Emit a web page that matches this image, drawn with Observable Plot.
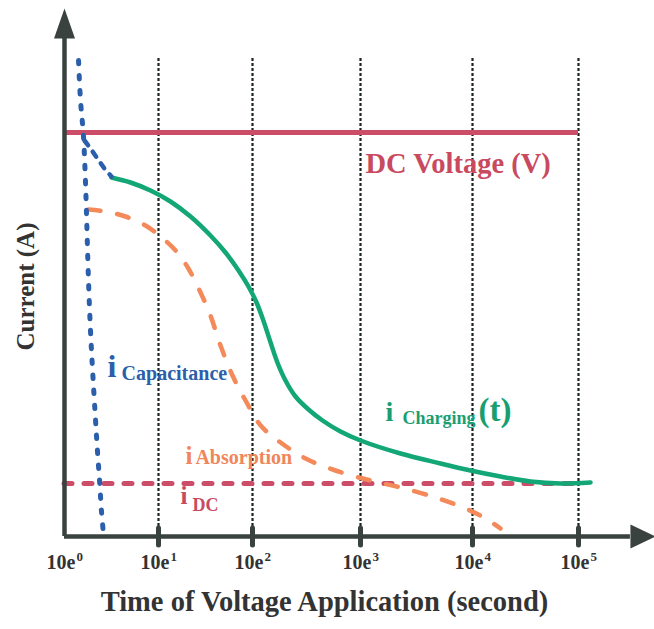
<!DOCTYPE html>
<html><head><meta charset="utf-8">
<script src="https://cdn.jsdelivr.net/npm/d3@7"></script>
<script src="https://cdn.jsdelivr.net/npm/@observablehq/plot@0.6"></script>
<style>body{margin:0;background:#fff}</style>
</head><body><div id="chart"></div>
<script>
// x: time of voltage application (s), log scale; y: current (arbitrary units)
const decades = [1, 10, 100, 1000, 10000, 100000];
const decadeExp = ["0", "1", "2", "3", "4", "5"];
const gridTimes = [10, 100, 1000, 10000, 100000];

const dcVoltage = 80.8;
const dcCurrent = 10.6;

const capT = [1.41, 1.48, 1.59, 1.67, 1.71, 1.80, 1.89, 1.99, 2.14, 2.24, 2.36, 2.47, 2.60];
const capI = [95.2, 87.2, 80.2, 71.2, 65.2, 51.2, 41.2, 33.2, 23.2, 17.2, 11.2, 5.2, 0.4];

const capTailT = [1.63, 1.89, 2.24, 2.66, 3.16];
const capTailI = [79.2, 77.6, 75.6, 73.6, 72.0];

const chargeT = [3.16, 5.04, 8.22, 13.4, 21.9, 35.7, 51.6, 71.0, 90.6, 109, 126, 147, 170, 202, 250, 330, 445, 653, 1000, 2276, 5179, 9598, 18370, 35260, 67620, 129800];
const chargeI = [71.8, 70.8, 69.2, 67.0, 64.0, 60.2, 56.8, 53.2, 50.0, 46.8, 43.2, 38.8, 34.8, 31.2, 28.0, 25.4, 23.2, 21.0, 19.2, 16.6, 14.6, 13.2, 12.0, 11.0, 10.6, 10.8];

const absT = [1.80, 2.73, 4.46, 7.27, 10.5, 15.2, 20.8, 28.0, 35.7, 45.7, 61.3, 84.3, 119, 182, 310, 587, 1228, 2276, 4677, 8660, 13270, 18370];
const absI = [65.4, 65.0, 64.0, 62.2, 60.0, 57.2, 53.6, 48.8, 44.2, 38.2, 32.2, 27.2, 22.2, 18.8, 15.6, 13.2, 11.2, 9.8, 7.8, 5.6, 3.6, 1.6];

const axisTop = 99.6;
const axisRight = 309000;

const axisColor = "#3a423f";
const red = "#cc4d68";
const blue = "#2c5fab";
const green = "#13a676";
const orange = "#f4895a";

const tri = {
  draw(context, l, r) {
    const w = r ?? 11;
    context.moveTo(-w, 0);
    context.lineTo(0, -l);
    context.lineTo(w, 0);
    context.closePath();
  }
};

const bold = {fontWeight: "bold"};
const idx = (a) => a.map((_, i) => i);

const chart = Plot.plot({
  width: 654, height: 629,
  marginLeft: 64, marginRight: 76, marginTop: 36, marginBottom: 93,
  style: {fontFamily: "'Liberation Serif', 'Times New Roman', serif", background: "#fff"},
  x: {type: "log", domain: decades, range: [64, 158, 252, 360, 472, 578], axis: null},
  y: {type: "linear", domain: [0, 100], range: [536, 36], axis: null},
  marks: [
    Plot.ruleX(gridTimes, {y1: 0, y2: 96, stroke: "#1c2422", strokeWidth: 2.2, strokeDasharray: "3,2"}),
    Plot.ruleY([dcVoltage], {x1: 1, x2: 100000, stroke: red, strokeWidth: 5}),
    Plot.ruleY([dcCurrent], {x1: 1, x2: 100000, stroke: red, strokeWidth: 5, strokeDasharray: "8,12", strokeLinecap: "round"}),
    Plot.line(idx(absT), {x: absT, y: absI, stroke: orange, strokeWidth: 4.5, strokeDasharray: "12,17", strokeLinecap: "round", curve: "catmull-rom"}),
    Plot.line(idx(chargeT), {x: chargeT, y: chargeI, stroke: green, strokeWidth: 4.5, curve: "catmull-rom"}),
    Plot.line(idx(capTailT), {x: capTailT, y: capTailI, stroke: blue, strokeWidth: 4.5, strokeDasharray: "6,8", strokeLinecap: "round", curve: "catmull-rom"}),
    Plot.line(idx(capT), {x: capT, y: capI, stroke: blue, strokeWidth: 5, strokeDasharray: "3.5,11.5", strokeLinecap: "round", curve: "catmull-rom"}),
    // axes
    Plot.ruleX([1], {y1: 0, y2: axisTop, stroke: axisColor, strokeWidth: 4.5}),
    Plot.ruleY([0], {x1: 1, x2: axisRight, stroke: axisColor, strokeWidth: 4.5}),
    Plot.ruleX(gridTimes, {y1: -1.8, y2: 1.6, stroke: axisColor, strokeWidth: 5, strokeLinecap: "round"}),
    Plot.vector([0], {x: 1, y: axisTop, length: 30, r: 10.5, rotate: 0, anchor: "start", shape: tri, fill: axisColor, stroke: "none"}),
    Plot.vector([0], {x: axisRight, y: 0, length: 25, r: 12, rotate: 90, anchor: "start", shape: tri, fill: axisColor, stroke: "none"}),
    // tick labels
    Plot.text(decades, {x: d => d, y: 0, text: () => "10e", dy: 32, dx: 11, textAnchor: "end", lineAnchor: "bottom", fontSize: 20, fill: "#333", ...bold}),
    Plot.text(decades, {x: d => d, y: 0, text: (d, i) => decadeExp[i], dy: 24, dx: 12, textAnchor: "start", lineAnchor: "bottom", fontSize: 13, fill: "#333", ...bold}),
    // titles
    Plot.text(["Time of Voltage Application (second)"], {frameAnchor: "bottom", textAnchor: "middle", dy: 74, dx: 3, lineAnchor: "bottom", fontSize: 28.5, fill: "#333", ...bold}),
    Plot.text(["Current (A)"], {frameAnchor: "left", textAnchor: "middle", rotate: -90, dx: -39, fontSize: 25, fill: "#333", ...bold}),
    // curve labels
    Plot.text(["DC Voltage (V)"], {x: 1109, y: 72.8, textAnchor: "start", lineAnchor: "bottom", fontSize: 28.5, fill: "#c9495f", ...bold}),
    Plot.text(["i"], {x: 2.87, y: 32, textAnchor: "start", lineAnchor: "bottom", fontSize: 32, fill: blue, ...bold}),
    Plot.text(["Capacitance"], {x: 4.05, y: 31.4, textAnchor: "start", lineAnchor: "bottom", fontSize: 20, fill: blue, ...bold}),
    Plot.text(["i"], {x: 1671, y: 23.2, textAnchor: "start", lineAnchor: "bottom", fontSize: 28, fill: "#1a9e70", ...bold}),
    Plot.text(["Charging"], {x: 2371, y: 22.6, textAnchor: "start", lineAnchor: "bottom", fontSize: 18, fill: "#1a9e70", ...bold}),
    Plot.text(["(t)"], {x: 11400, y: 23.2, textAnchor: "start", lineAnchor: "bottom", fontSize: 33, fill: "#1a9e70", ...bold}),
    Plot.text(["i"], {x: 19.4, y: 14.6, textAnchor: "start", lineAnchor: "bottom", fontSize: 25, fill: "#f0865a", ...bold}),
    Plot.text(["Absorption"], {x: 24.7, y: 14.6, textAnchor: "start", lineAnchor: "bottom", fontSize: 20, fill: "#f0865a", ...bold}),
    Plot.text(["i"], {x: 17.1, y: 6.6, textAnchor: "start", lineAnchor: "bottom", fontSize: 25, fill: "#c84a60", ...bold}),
    Plot.text(["DC"], {x: 23.0, y: 5.2, textAnchor: "start", lineAnchor: "bottom", fontSize: 18, fill: "#c84a60", ...bold})
  ]
});
document.getElementById("chart").appendChild(chart);
</script>
</body></html>
